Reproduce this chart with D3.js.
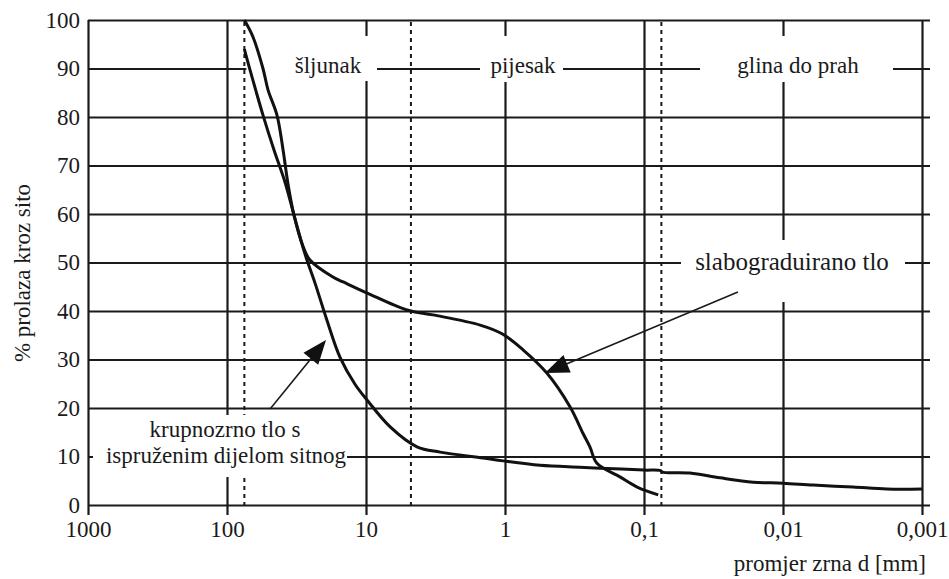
<!DOCTYPE html>
<html><head><meta charset="utf-8">
<script src="https://cdn.jsdelivr.net/npm/d3@7"></script>
<style>body{margin:0;background:#fff}svg{display:block}</style>
</head><body>
<svg id="chart" width="949" height="579"></svg>
<script>
// ---- data ----
const xTicks = [1000, 100, 10, 1, 0.1, 0.01, 0.001];
const xTickLabels = ["1000", "100", "10", "1", "0,1", "0,01", "0,001"];
const yTicks = [0, 10, 20, 30, 40, 50, 60, 70, 80, 90, 100];
const sieveLimits = [75, 4.75, 0.075];
const zoneLabels = ["šljunak", "pijesak", "glina do prah"];
// poorly graded soil (slabograduirano tlo)
const slaboD = [75, 65, 55.1, 50.7, 43.7, 39.5, 36.5, 33, 28.6, 25.3, 17.3, 14.6, 9.8, 5.07, 3.3, 1.51, 1.05, 0.742, 0.5, 0.34, 0.275, 0.245, 0.218, 0.149, 0.112, 0.079];
const slaboP = [100, 96.5, 90, 85.6, 80.4, 73.2, 66.4, 59.8, 53.6, 50.5, 47, 46, 43.7, 40.2, 39.2, 37.1, 35.3, 32, 27.2, 20.2, 14.8, 12, 8.6, 5.8, 3.7, 2.1];
// coarse soil with extended fine part (krupnozrno tlo s ispruženim dijelom sitnog)
const krupnoD = [75, 68.3, 55.1, 45.9, 38.1, 33, 29, 26.6, 23.3, 19.1, 15.4, 12.0, 9.8, 6.7, 4.3, 2.93, 1.44, 1.03, 0.56, 0.29, 0.207, 0.1, 0.076, 0.074, 0.0467, 0.0284, 0.0164, 0.01, 0.00608, 0.00314, 0.00179, 0.001];
const krupnoP = [94, 89.7, 80.4, 73.2, 66.4, 59.8, 54, 50.5, 45.8, 38.1, 30.5, 24.9, 21.6, 16.1, 12, 10.9, 9.7, 9.1, 8.2, 7.8, 7.6, 7.2, 7.1, 6.8, 6.6, 5.6, 4.7, 4.5, 4.1, 3.7, 3.3, 3.3];

// ---- layout ----
const W = 949, H = 579;
const X0 = 88, X1 = 922, Y0 = 505, Y1 = 20;
const FONT = "'Liberation Serif', 'Times New Roman', serif";
const FS = 23;
const INK = "#1a1a1a";

const svg = d3.select("#chart");
svg.append("rect").attr("width", W).attr("height", H).attr("fill", "#fff");

const x = d3.scaleLog().domain([1000, 0.001]).range([X0, X1]);
const y = d3.scaleLinear().domain([0, 100]).range([Y0, Y1]);

// horizontal grid + y labels
const gy = svg.append("g").attr("transform", `translate(${X0},0)`)
  .call(d3.axisLeft(y).tickValues(yTicks).tickSize(-(X1 - X0 + 8)).tickPadding(8).tickFormat(d3.format("d")));
gy.select(".domain").remove();
gy.selectAll(".tick line").attr("stroke", INK).attr("stroke-width", 2.2);
gy.selectAll(".tick text").attr("font-family", FONT).attr("font-size", FS).attr("fill", INK);

// vertical grid + x labels
const gx = svg.append("g").attr("transform", `translate(0,${Y0})`)
  .call(d3.axisBottom(x).tickValues(xTicks).tickSize(10).tickPadding(6).tickFormat((d, i) => xTickLabels[i]));
gx.select(".domain").remove();
gx.selectAll(".tick line").attr("y1", -(Y0 - Y1)).attr("stroke", INK).attr("stroke-width", 2.2);
gx.selectAll(".tick text").attr("font-family", FONT).attr("font-size", FS).attr("fill", INK);

// dotted sieve limits
svg.append("g").selectAll("line").data(sieveLimits).join("line")
  .attr("x1", d => x(d)).attr("x2", d => x(d))
  .attr("y1", y(100) + 2).attr("y2", y(0))
  .attr("stroke", INK).attr("stroke-width", 2).attr("stroke-dasharray", "4,4");

// label knock-out boxes (white gaps in grid)
const boxes = [
  [x(75) + 2, 36, 377, 81],
  [480, 36, 563, 82],
  [700, 36, 893, 82],
  [681, 240, 905, 302],
  [93, 415, 347, 477]
];
svg.append("g").selectAll("rect").data(boxes).join("rect")
  .attr("x", d => d[0]).attr("y", d => d[1])
  .attr("width", d => d[2] - d[0]).attr("height", d => d[3] - d[1])
  .attr("fill", "#fff");

// curves
const line = d3.line().x(d => x(d[0])).y(d => y(d[1])).curve(d3.curveCatmullRom.alpha(0.5));
svg.append("path").datum(slaboD.map((d, i) => [d, slaboP[i]]))
  .attr("d", line).attr("fill", "none").attr("stroke", "#111").attr("stroke-width", 3).attr("stroke-linejoin", "round");
svg.append("path").datum(krupnoD.map((d, i) => [d, krupnoP[i]]))
  .attr("d", line).attr("fill", "none").attr("stroke", "#111").attr("stroke-width", 3).attr("stroke-linejoin", "round");

// texts
const txt = (s, tx, ty, anchor = "middle", fs = FS) => svg.append("text")
  .attr("x", tx).attr("y", ty).attr("text-anchor", anchor)
  .attr("font-family", FONT).attr("font-size", fs).attr("fill", INK).text(s);
txt(zoneLabels[0], 328, 73);
txt(zoneLabels[1], 523, 73);
txt(zoneLabels[2], 798, 73);
txt("slabograduirano tlo", 792, 270, "middle", 25);
txt("krupnozrno tlo s", 225, 437);
txt("ispruženim dijelom sitnog", 226, 463);
txt("promjer zrna d [mm]", 926, 571, "end");
svg.append("text").attr("transform", `translate(30,${273}) rotate(-90)`)
  .attr("text-anchor", "middle").attr("font-family", FONT).attr("font-size", FS).attr("fill", INK)
  .text("% prolaza kroz sito");

// arrows (data coordinates)
const arrows = [
  { from: [49, 19.8], to: [19.4, 34.0] },
  { from: [0.0211, 43.9], to: [0.516, 27.2] }
];
arrows.forEach(a => {
  const x1 = x(a.from[0]), y1 = y(a.from[1]), x2 = x(a.to[0]), y2 = y(a.to[1]);
  const dx = x2 - x1, dy = y2 - y1, L = Math.hypot(dx, dy);
  const ux = dx / L, uy = dy / L, len = 24, hw = 9.5;
  const bx = x2 - ux * len, by = y2 - uy * len;
  svg.append("line").attr("x1", x1).attr("y1", y1).attr("x2", bx + ux * 2).attr("y2", by + uy * 2)
    .attr("stroke", INK).attr("stroke-width", 1.6);
  svg.append("polygon")
    .attr("points", [[x2, y2], [bx - uy * hw, by + ux * hw], [bx + uy * hw, by - ux * hw]].map(p => p.join(",")).join(" "))
    .attr("fill", "#111");
});
</script>
</body></html>
